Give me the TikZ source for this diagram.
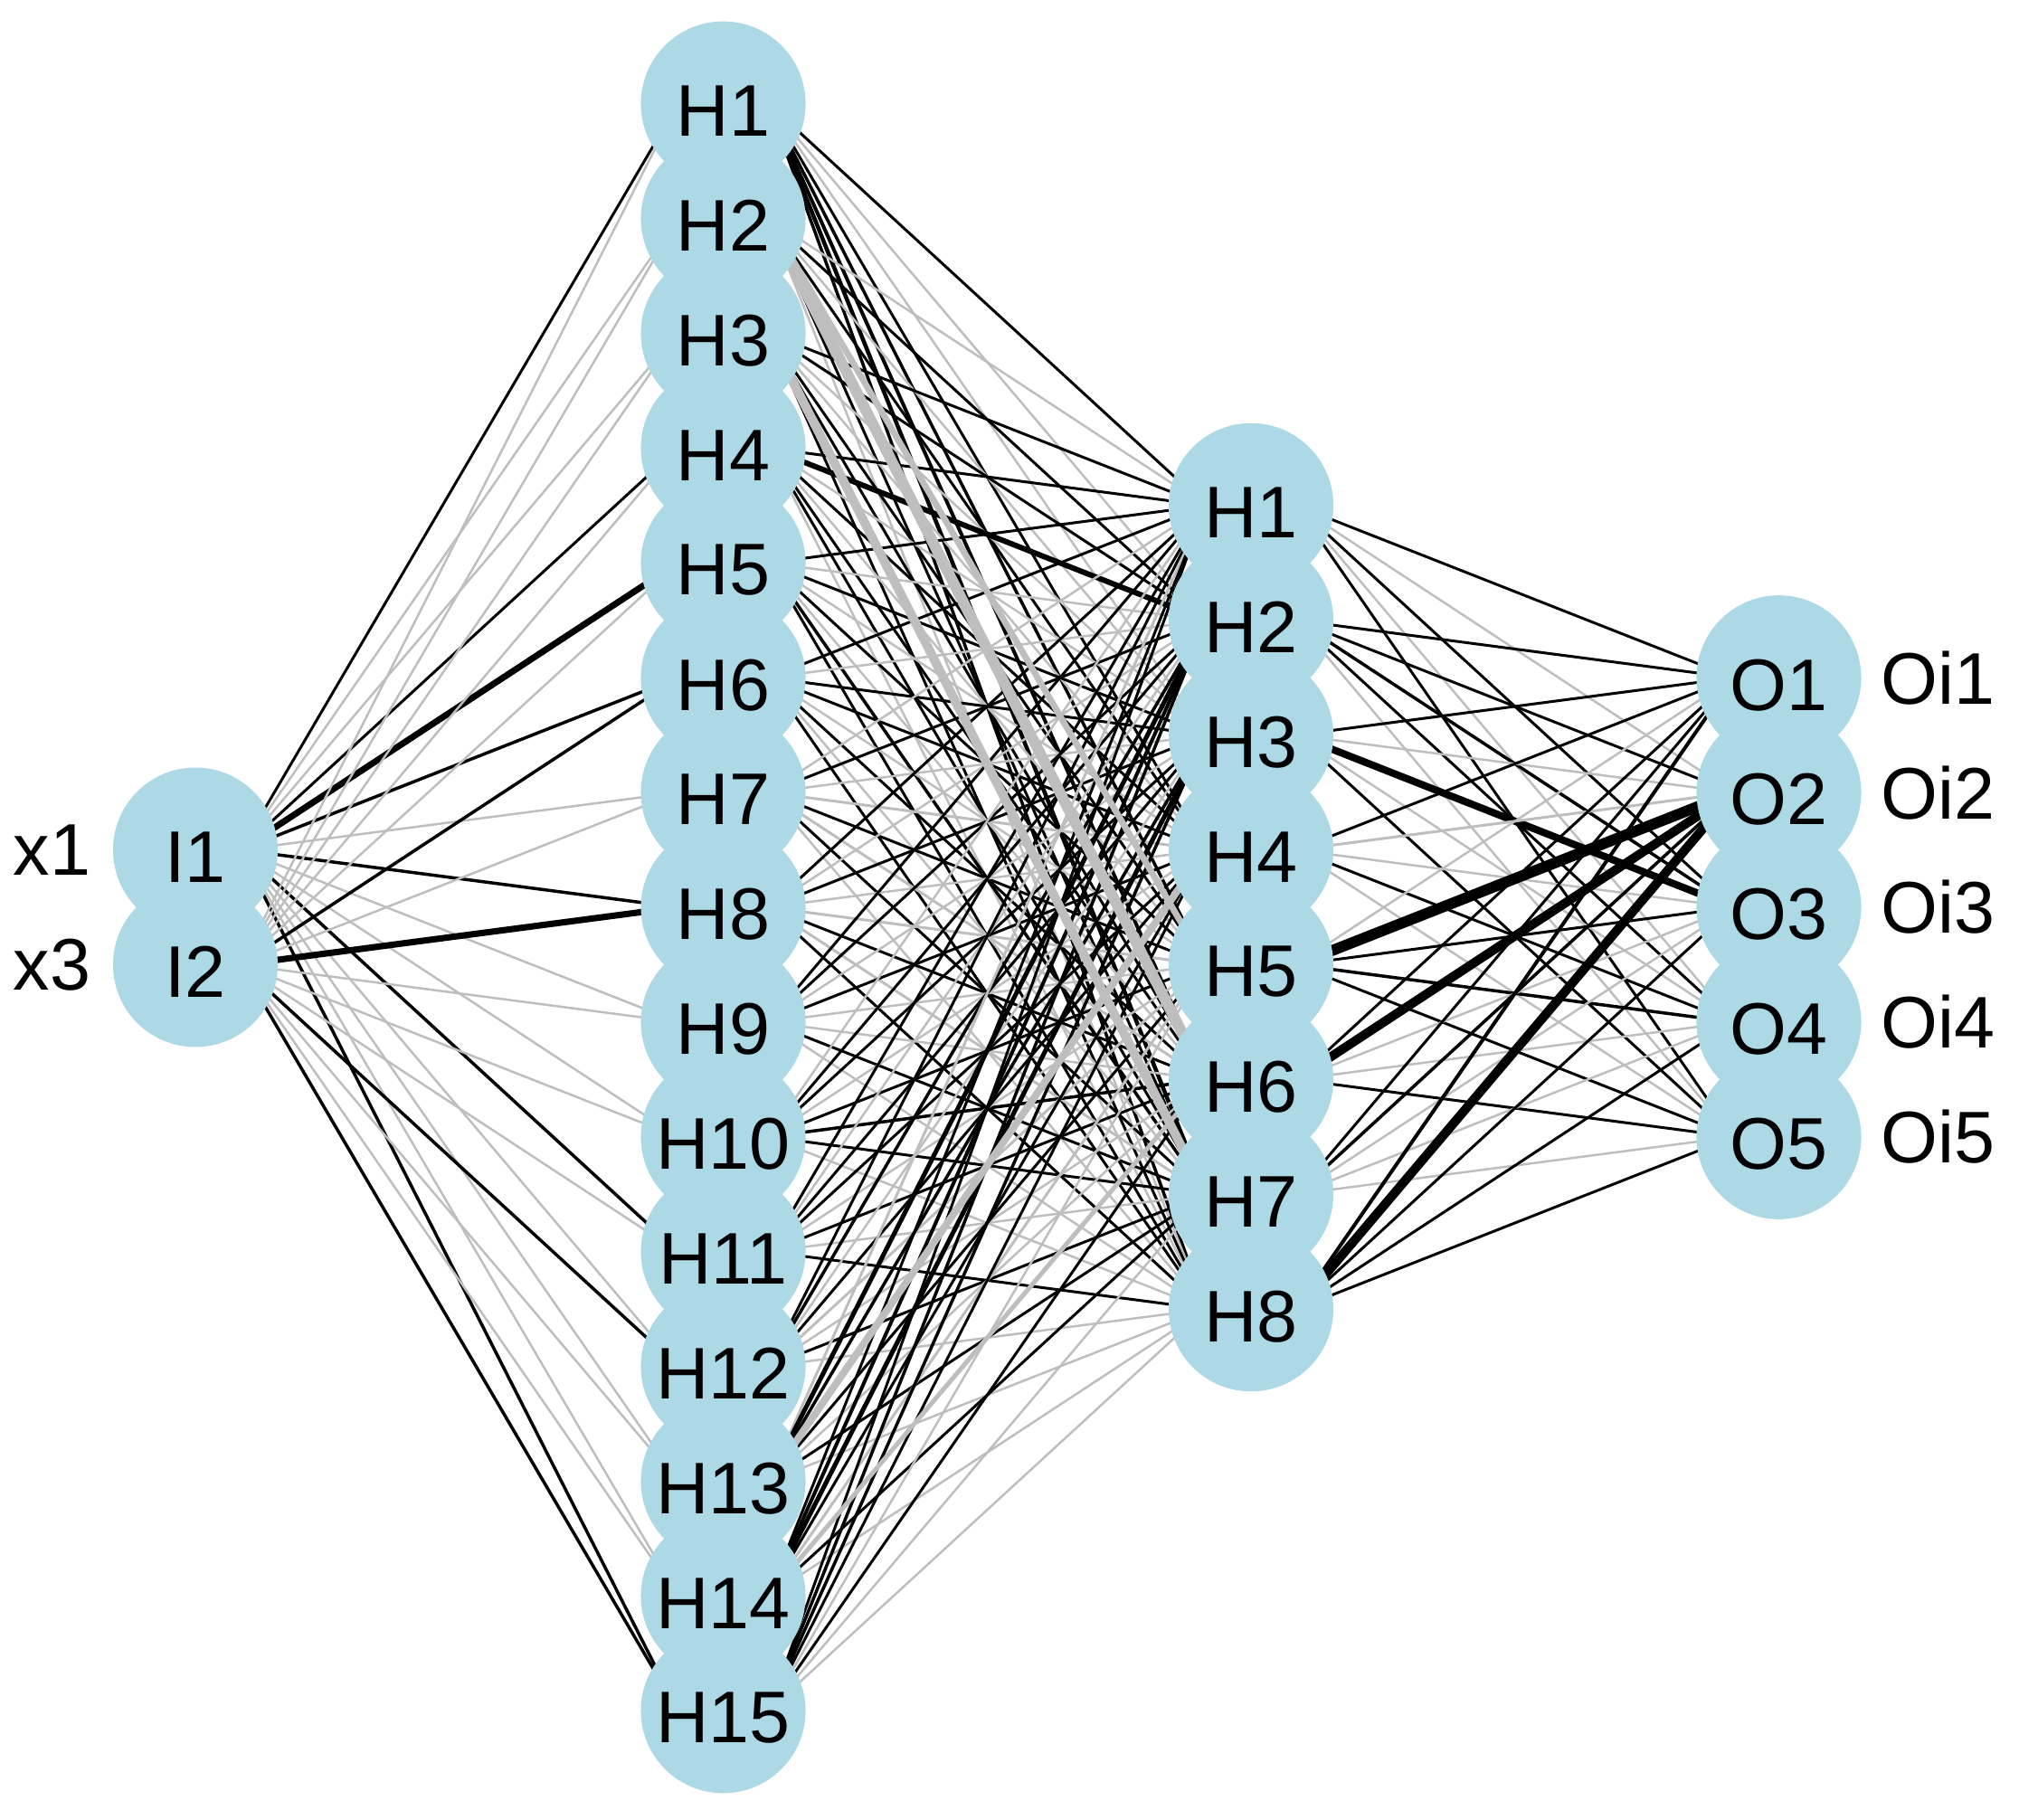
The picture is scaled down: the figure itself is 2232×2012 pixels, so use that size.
\documentclass[tikz,border=0pt]{standalone}
\usepackage{fontspec}
\setmainfont{Liberation Sans}
\definecolor{nodeblue}{RGB}{173,216,230}
\definecolor{N}{RGB}{190,190,190}
\colorlet{P}{black}
\newcommand\nnfont{\fontsize{23}{27}\selectfont}
\pgfdeclarelayer{bg}
\pgfsetlayers{bg,main}
\begin{document}
\begin{tikzpicture}[x=0.01cm,y=-0.01cm,
  neuron/.style={circle,fill=nodeblue,minimum size=1.82cm,inner sep=0pt,
    label={[font=\nnfont,inner sep=0pt,yshift=-0.08cm]center:#1}},
  tag/.style={font=\nnfont,inner sep=0pt},
  wire/.style 2 args={draw=#1,line width=#2*0.2845pt}]
\useasboundingbox (0,0) rectangle (2232,2012);
% layers
\foreach \k in {1,2}
  \node[neuron=I\k] (i\k) at (216,{1003+(\k-1.5)*126.9}) {};
\foreach \k in {1,...,15}
  \node[neuron=H\k] (a\k) at (799.5,{1003+(\k-8)*126.9}) {};
\foreach \k in {1,...,8}
  \node[neuron=H\k] (b\k) at (1383,{1003+(\k-4.5)*126.9}) {};
\foreach \k in {1,...,5}
  \node[neuron=O\k] (o\k) at (1966.5,{1003+(\k-3)*126.9}) {};
% side labels
\node[tag,anchor=east] (x1) at (101,{1003-0.5*126.9}) {x1};
\node[tag,anchor=east] (x3) at (101,{1003+0.5*126.9}) {x3};
\foreach \k in {1,...,5}
  \node[tag,anchor=west] (oi\k) at (2079,{1003+(\k-3)*126.9}) {Oi\k};
% connections (staggered 0.5cm from node centres)
\begin{pgfonlayer}{bg}
\foreach \s/\t/\c/\w in {
 1/1/P/3,1/2/N/2.5,1/3/N/2.5,1/4/P/3,1/5/P/7,1/6/P/3.5,1/7/N/2.5,1/8/P/3.5,
 1/9/N/2.5,1/10/N/2.5,1/11/P/3.5,1/12/N/2.5,1/13/N/2.5,1/14/N/2.5,1/15/P/3.5,
 2/1/N/2.5,2/2/N/2.5,2/3/N/2.5,2/4/N/2.5,2/5/N/2.5,2/6/P/3.5,2/7/N/2.5,2/8/P/7,
 2/9/N/2.5,2/10/N/2.5,2/11/N/2.5,2/12/P/3.5,2/13/N/2.5,2/14/N/2.5,2/15/P/3.5}
  \draw[wire={\c}{\w}] ([xshift=0.5cm]i\s.center) -- ([xshift=-0.5cm]a\t.center);
\foreach \s/\t/\c/\w in {
 1/1/P/3,1/2/N/2.5,1/3/N/2.5,1/4/P/3,1/5/P/3.5,1/6/P/4,1/7/P/4.5,1/8/P/3.5,
 2/1/N/2.5,2/2/P/3,2/3/N/2.5,2/4/P/3,2/7/P/3,2/8/N/2.5,
 3/1/P/3,3/2/P/3,3/3/N/2.5,3/4/N/2.5,3/5/P/3,3/6/P/3,3/8/P/3,
 4/1/P/3,4/2/P/6,4/3/N/2.5,4/4/P/3,4/5/N/2.5,4/6/P/3,4/7/P/3,4/8/N/2.5,
 5/1/P/3,5/2/N/2.5,5/3/P/3,5/4/N/2.5,5/5/P/3,5/6/N/2.5,5/7/P/3.5,5/8/P/3,
 6/1/P/3,6/2/N/2.5,6/3/P/3,6/4/P/3,6/5/N/2.5,6/6/P/3,6/7/N/2.5,6/8/P/3,
 7/1/N/2.5,7/2/P/3,7/3/N/2.5,7/4/N/3,7/5/P/3,7/6/N/3,7/7/P/3,7/8/N/2.5,
 8/1/P/3,8/2/N/2.5,8/3/P/3,8/4/N/2.5,8/5/N/3,8/6/P/3,8/7/N/3,8/8/P/3,
 9/1/P/3,9/2/P/3,9/3/N/2.5,9/4/P/3,9/5/N/2.5,9/6/N/2.5,9/7/P/3,9/8/N/2.5,
 10/1/N/2.5,10/2/P/3,10/3/P/3,10/4/N/2.5,10/5/P/3,10/6/P/3.5,10/7/P/3,10/8/N/2.5,
 11/1/P/3,11/2/N/2.5,11/3/P/3,11/4/P/3,11/5/N/2.5,11/6/P/3,11/7/N/2.5,11/8/P/3,
 12/1/P/3,12/2/P/3.5,12/3/N/2.5,12/4/P/3,12/5/N/3,12/6/N/2.5,12/7/P/3,12/8/N/2.5,
 13/1/N/3,13/2/P/5,13/3/P/3.5,13/5/P/3,13/6/N/2.5,13/7/P/3,13/8/N/2.5,
 14/1/P/3,14/2/P/4,14/3/P/5,14/4/P/3,14/5/N/3,14/7/P/3,14/8/N/2.5,
 15/1/P/3,15/2/P/3.5,15/3/P/3.5,15/4/P/3,15/5/N/2.5,15/6/P/3,15/7/N/2.5,15/8/N/2.5,
 2/5/N/7,2/6/N/12,3/7/N/10,13/4/N/8,14/6/N/5}
  \draw[wire={\c}{\w}] ([xshift=0.5cm]a\s.center) -- ([xshift=-0.5cm]b\t.center);
\foreach \s/\t/\c/\w in {
 1/1/P/3,1/2/N/2.5,1/3/P/3,1/4/N/2.5,1/5/P/3,
 2/1/P/3,2/2/P/3,2/3/P/3.5,2/4/P/3,2/5/N/2.5,
 3/1/P/3,3/2/N/2.5,3/3/P/8,3/4/N/2.5,3/5/P/3,
 4/1/P/3,4/2/N/3,4/3/N/2.5,4/4/P/3,4/5/N/2.5,
 5/1/N/2.5,5/2/P/12,5/3/P/3,5/4/P/3.5,5/5/P/3,
 6/1/P/3,6/2/P/10,6/3/N/2.5,6/4/N/2.5,6/5/P/3,
 7/1/P/3,7/2/P/3.5,7/3/N/2.5,7/4/N/2.5,7/5/N/2.5,
 8/1/P/4,8/2/P/10,8/3/P/3,8/4/P/3,8/5/P/3}
  \draw[wire={\c}{\w}] ([xshift=0.5cm]b\s.center) -- ([xshift=-0.5cm]o\t.center);
\end{pgfonlayer}
\end{tikzpicture}
\end{document}
